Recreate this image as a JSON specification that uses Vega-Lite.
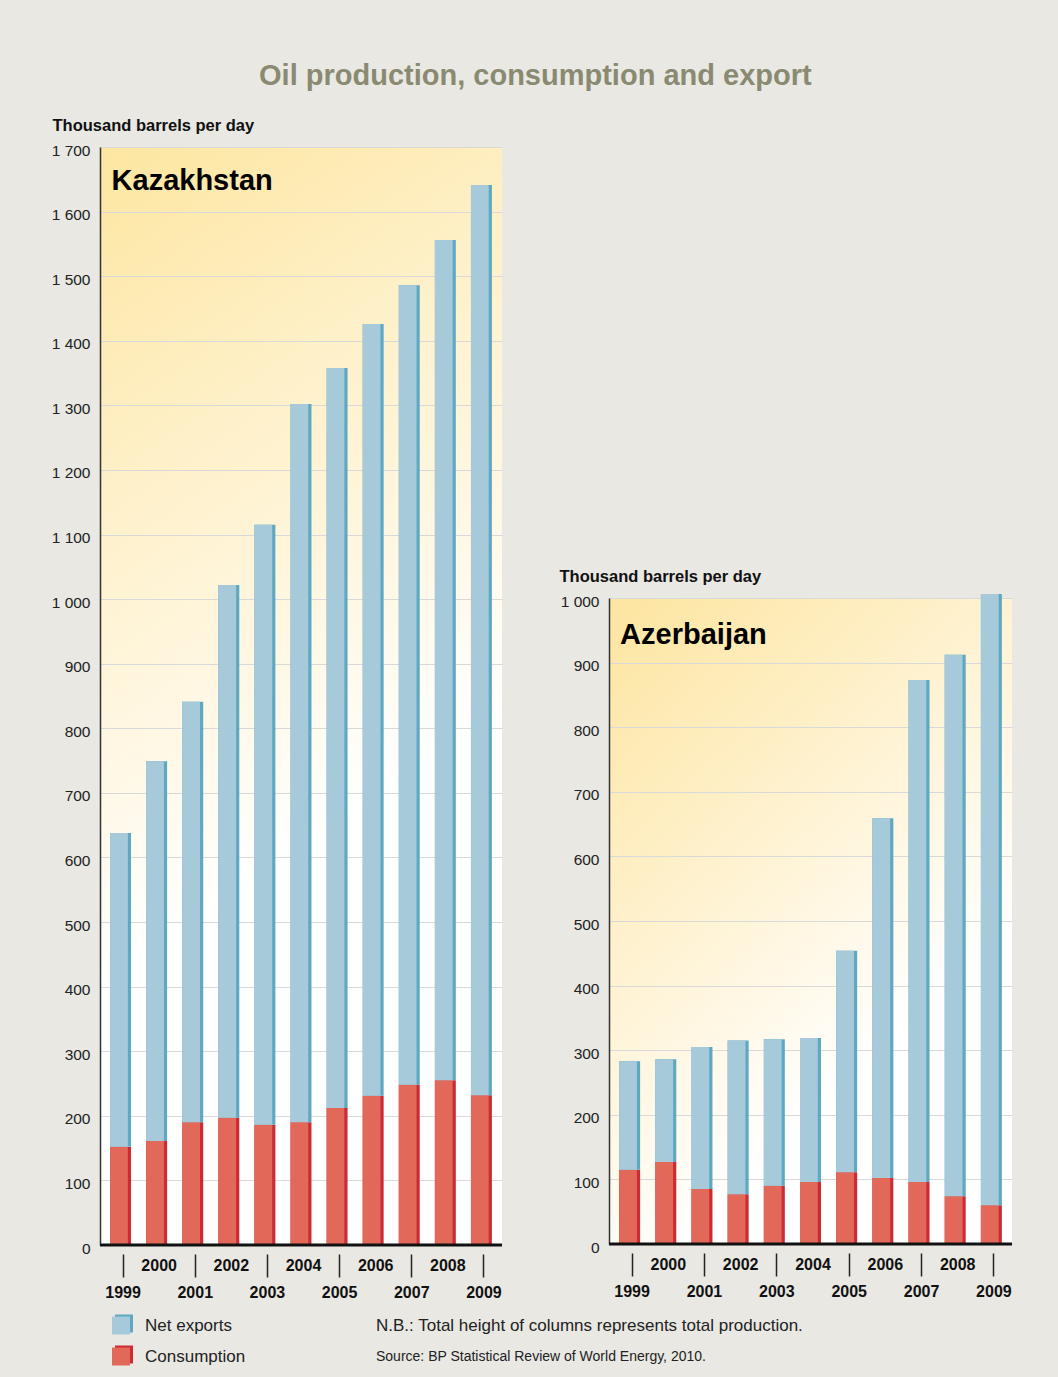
{
  "$schema": "https://vega.github.io/schema/vega-lite/v6.json",
  "background": "#e9e8e3",
  "padding": {"left": 51, "top": 62, "right": 45, "bottom": 14},
  "title": {"text": "Oil production, consumption and export", "fontSize": 29, "fontWeight": "bold", "color": "#8a8a72", "anchor": "middle", "offset": 26, "dx": 3, "font": "Liberation Sans"},
  "config": {"font": "Liberation Sans", "view": {"stroke": null}},
  "datasets": {
    "kz": [
      {"year": 1999, "series": "Consumption", "value": 152}, {"year": 1999, "series": "Net exports", "value": 486},
      {"year": 2000, "series": "Consumption", "value": 161}, {"year": 2000, "series": "Net exports", "value": 588},
      {"year": 2001, "series": "Consumption", "value": 190}, {"year": 2001, "series": "Net exports", "value": 651},
      {"year": 2002, "series": "Consumption", "value": 197}, {"year": 2002, "series": "Net exports", "value": 825},
      {"year": 2003, "series": "Consumption", "value": 186}, {"year": 2003, "series": "Net exports", "value": 929},
      {"year": 2004, "series": "Consumption", "value": 190}, {"year": 2004, "series": "Net exports", "value": 1112},
      {"year": 2005, "series": "Consumption", "value": 212}, {"year": 2005, "series": "Net exports", "value": 1146},
      {"year": 2006, "series": "Consumption", "value": 231}, {"year": 2006, "series": "Net exports", "value": 1195},
      {"year": 2007, "series": "Consumption", "value": 248}, {"year": 2007, "series": "Net exports", "value": 1238},
      {"year": 2008, "series": "Consumption", "value": 255}, {"year": 2008, "series": "Net exports", "value": 1301},
      {"year": 2009, "series": "Consumption", "value": 232}, {"year": 2009, "series": "Net exports", "value": 1409}
    ],
    "az": [
      {"year": 1999, "series": "Consumption", "value": 115}, {"year": 1999, "series": "Net exports", "value": 168},
      {"year": 2000, "series": "Consumption", "value": 127}, {"year": 2000, "series": "Net exports", "value": 159},
      {"year": 2001, "series": "Consumption", "value": 85}, {"year": 2001, "series": "Net exports", "value": 220},
      {"year": 2002, "series": "Consumption", "value": 77}, {"year": 2002, "series": "Net exports", "value": 238},
      {"year": 2003, "series": "Consumption", "value": 90}, {"year": 2003, "series": "Net exports", "value": 227},
      {"year": 2004, "series": "Consumption", "value": 96}, {"year": 2004, "series": "Net exports", "value": 223},
      {"year": 2005, "series": "Consumption", "value": 111}, {"year": 2005, "series": "Net exports", "value": 343},
      {"year": 2006, "series": "Consumption", "value": 102}, {"year": 2006, "series": "Net exports", "value": 557},
      {"year": 2007, "series": "Consumption", "value": 96}, {"year": 2007, "series": "Net exports", "value": 777},
      {"year": 2008, "series": "Consumption", "value": 74}, {"year": 2008, "series": "Net exports", "value": 838},
      {"year": 2009, "series": "Consumption", "value": 60}, {"year": 2009, "series": "Net exports", "value": 946}
    ],
    "footer": [
      {"row": "1", "series": "Net exports", "label": "Net exports", "note": "N.B.: Total height of columns represents total production."},
      {"row": "2", "series": "Consumption", "label": "Consumption", "note": "Source: BP Statistical Review of World Energy, 2010."}
    ]
  },
  "vconcat": [
    {
      "hconcat": [
        {
          "width": 402,
          "height": 1098,
          "view": {"stroke": null, "fill": {"gradient": "linear", "x1": 0, "y1": 0, "x2": 0.25, "y2": 1, "stops": [{"offset": 0, "color": "#fde6a0"}, {"offset": 0.3, "color": "#fef0c8"}, {"offset": 0.55, "color": "#fff8e6"}, {"offset": 0.72, "color": "#ffffff"}]}},
          "data": {"name": "kz"},
          "layer": [
            {
              "mark": {"type": "bar"},
              "encoding": {
                "x": {"field": "year", "type": "ordinal", "scale": {"paddingInner": 0.42, "paddingOuter": 0.28},
                  "axis": {"title": null, "orient": "bottom", "domain": false, "offset": 9, "tickSize": 23, "tickWidth": 1.5, "tickColor": "#222", "tickOffset": 2,
                    "tickOpacity": {"condition": {"test": "datum.value % 2 == 0", "value": 0}, "value": 1},
                    "labelAngle": 0, "labelBaseline": "top", "labelPadding": -20, "labelLineHeight": 27, "labelFontSize": 16, "labelFontWeight": "bold", "labelColor": "#111", "labelOverlap": false,
                    "labelExpr": "datum.value % 2 == 1 ? ['', datum.label] : datum.label", "grid": false}},
                "y": {"field": "value", "type": "quantitative", "stack": "zero", "scale": {"domain": [0, 1700], "nice": false},
                  "axis": {"values": [0, 100, 200, 300, 400, 500, 600, 700, 800, 900, 1000, 1100, 1200, 1300, 1400, 1500, 1600, 1700],
                    "title": "Thousand barrels per day", "titleAngle": 0, "titleAlign": "left", "titleBaseline": "middle", "titleX": -48, "titleY": -22, "titleFontSize": 16.5, "titleFontWeight": "bold", "titleColor": "#111",
                    "labelExpr": "replace(format(datum.value, ','), ',', ' ')", "labelFontSize": 15.5, "labelColor": "#222", "labelPadding": 10, "labelOffset": 3,
                    "ticks": false, "tickSize": 0, "domain": true, "domainColor": "#333", "domainWidth": 1.5,
                    "grid": true, "gridColor": "#d9d9d9", "gridWidth": 1}},
                "fill": {"field": "series", "type": "nominal", "scale": {"domain": ["Net exports", "Consumption"], "range": ["#5ea8c2", "#cc2b33"]}, "legend": null},
                "order": {"field": "series", "sort": "ascending"}
              }
            },
            {
              "mark": {"type": "bar", "width": {"band": 0.85}, "xOffset": -1.6},
              "encoding": {
                "x": {"field": "year", "type": "ordinal"},
                "y": {"field": "value", "type": "quantitative", "stack": "zero"},
                "color": {"field": "series", "type": "nominal", "scale": {"domain": ["Net exports", "Consumption"], "range": ["#a6cad9", "#e2685a"]}, "legend": null},
                "order": {"field": "series", "sort": "ascending"}
              }
            },
            {
              "data": {"values": [{}]},
              "mark": {"type": "rule", "strokeWidth": 3, "color": "#111"},
              "encoding": {"y": {"datum": 0, "type": "quantitative"}}
            },
            {
              "data": {"values": [{"country": "Kazakhstan"}]},
              "mark": {"type": "text", "align": "left", "baseline": "alphabetic", "fontSize": 29, "fontWeight": "bold", "color": "#000", "dx": -9, "dy": 43},
              "encoding": {
                "x": {"datum": 1999, "type": "ordinal"},
                "y": {"datum": 1700, "type": "quantitative"},
                "text": {"field": "country"}
              }
            }
          ]
        },
        {
          "vconcat": [
            {"width": 10, "height": 421, "data": {"values": []}, "mark": "point"},
            {
              "width": 403,
              "height": 646,
              "view": {"stroke": null, "fill": {"gradient": "linear", "x1": 0, "y1": 0, "x2": 0.6, "y2": 1, "stops": [{"offset": 0, "color": "#fde5a0"}, {"offset": 0.35, "color": "#feefc6"}, {"offset": 0.65, "color": "#fff9ea"}, {"offset": 0.82, "color": "#ffffff"}]}},
              "data": {"name": "az"},
              "layer": [
                {
                  "mark": {"type": "bar"},
                  "encoding": {
                    "x": {"field": "year", "type": "ordinal", "scale": {"paddingInner": 0.42, "paddingOuter": 0.28},
                      "axis": {"title": null, "orient": "bottom", "domain": false, "offset": 9, "tickSize": 23, "tickWidth": 1.5, "tickColor": "#222", "tickOffset": 2,
                        "tickOpacity": {"condition": {"test": "datum.value % 2 == 0", "value": 0}, "value": 1},
                        "labelAngle": 0, "labelBaseline": "top", "labelPadding": -20, "labelLineHeight": 27, "labelFontSize": 16, "labelFontWeight": "bold", "labelColor": "#111", "labelOverlap": false,
                        "labelExpr": "datum.value % 2 == 1 ? ['', datum.label] : datum.label", "grid": false}},
                    "y": {"field": "value", "type": "quantitative", "stack": "zero", "scale": {"domain": [0, 1000], "nice": false},
                      "axis": {"values": [0, 100, 200, 300, 400, 500, 600, 700, 800, 900, 1000],
                        "title": "Thousand barrels per day", "titleAngle": 0, "titleAlign": "left", "titleBaseline": "middle", "titleX": -50, "titleY": -22, "titleFontSize": 16.5, "titleFontWeight": "bold", "titleColor": "#111",
                        "labelExpr": "replace(format(datum.value, ','), ',', ' ')", "labelFontSize": 15.5, "labelColor": "#222", "labelPadding": 10, "labelOffset": 3,
                        "ticks": false, "tickSize": 0, "domain": true, "domainColor": "#333", "domainWidth": 1.5,
                        "grid": true, "gridColor": "#d9d9d9", "gridWidth": 1}},
                    "fill": {"field": "series", "type": "nominal", "scale": {"domain": ["Net exports", "Consumption"], "range": ["#5ea8c2", "#cc2b33"]}, "legend": null},
                    "order": {"field": "series", "sort": "ascending"}
                  }
                },
                {
                  "mark": {"type": "bar", "width": {"band": 0.85}, "xOffset": -1.6},
                  "encoding": {
                    "x": {"field": "year", "type": "ordinal"},
                    "y": {"field": "value", "type": "quantitative", "stack": "zero"},
                    "color": {"field": "series", "type": "nominal", "scale": {"domain": ["Net exports", "Consumption"], "range": ["#a6cad9", "#e2685a"]}, "legend": null},
                    "order": {"field": "series", "sort": "ascending"}
                  }
                },
                {
                  "data": {"values": [{}]},
                  "mark": {"type": "rule", "strokeWidth": 3, "color": "#111"},
                  "encoding": {"y": {"datum": 0, "type": "quantitative"}}
                },
                {
                  "data": {"values": [{"country": "Azerbaijan"}]},
                  "mark": {"type": "text", "align": "left", "baseline": "alphabetic", "fontSize": 29, "fontWeight": "bold", "color": "#000", "dx": -9.5, "dy": 46},
                  "encoding": {
                    "x": {"datum": 1999, "type": "ordinal"},
                    "y": {"datum": 1000, "type": "quantitative"},
                    "text": {"field": "country"}
                  }
                }
              ]
            }
          ],
          "spacing": 0
        }
      ],
      "spacing": 55
    },
    {
      "width": 42,
      "height": 62,
      "data": {"name": "footer"},
      "encoding": {"y": {"field": "row", "type": "ordinal", "axis": null, "scale": {"type": "point", "padding": 0.5}}},
      "layer": [
        {
          "mark": {"type": "point", "shape": "square", "size": 324, "filled": true, "opacity": 1, "xOffset": 3, "yOffset": -2},
          "encoding": {"fill": {"field": "series", "type": "nominal", "scale": {"domain": ["Net exports", "Consumption"], "range": ["#5ea8c2", "#cc2b33"]}, "legend": null}}
        },
        {
          "mark": {"type": "point", "shape": "square", "size": 324, "filled": true, "opacity": 1},
          "encoding": {"color": {"field": "series", "type": "nominal", "scale": {"domain": ["Net exports", "Consumption"], "range": ["#a6cad9", "#e2685a"]}, "legend": null}}
        },
        {
          "mark": {"type": "text", "align": "left", "baseline": "middle", "dx": 24, "fontSize": 17, "color": "#222"},
          "encoding": {"text": {"field": "label"}}
        },
        {
          "mark": {"type": "text", "align": "left", "baseline": "middle", "dx": 255, "color": "#222"},
          "encoding": {"text": {"field": "note"}, "size": {"field": "row", "type": "nominal", "scale": {"type": "ordinal", "domain": ["1", "2"], "range": [17, 14]}, "legend": null}}
        }
      ]
    }
  ],
  "spacing": 10
}
